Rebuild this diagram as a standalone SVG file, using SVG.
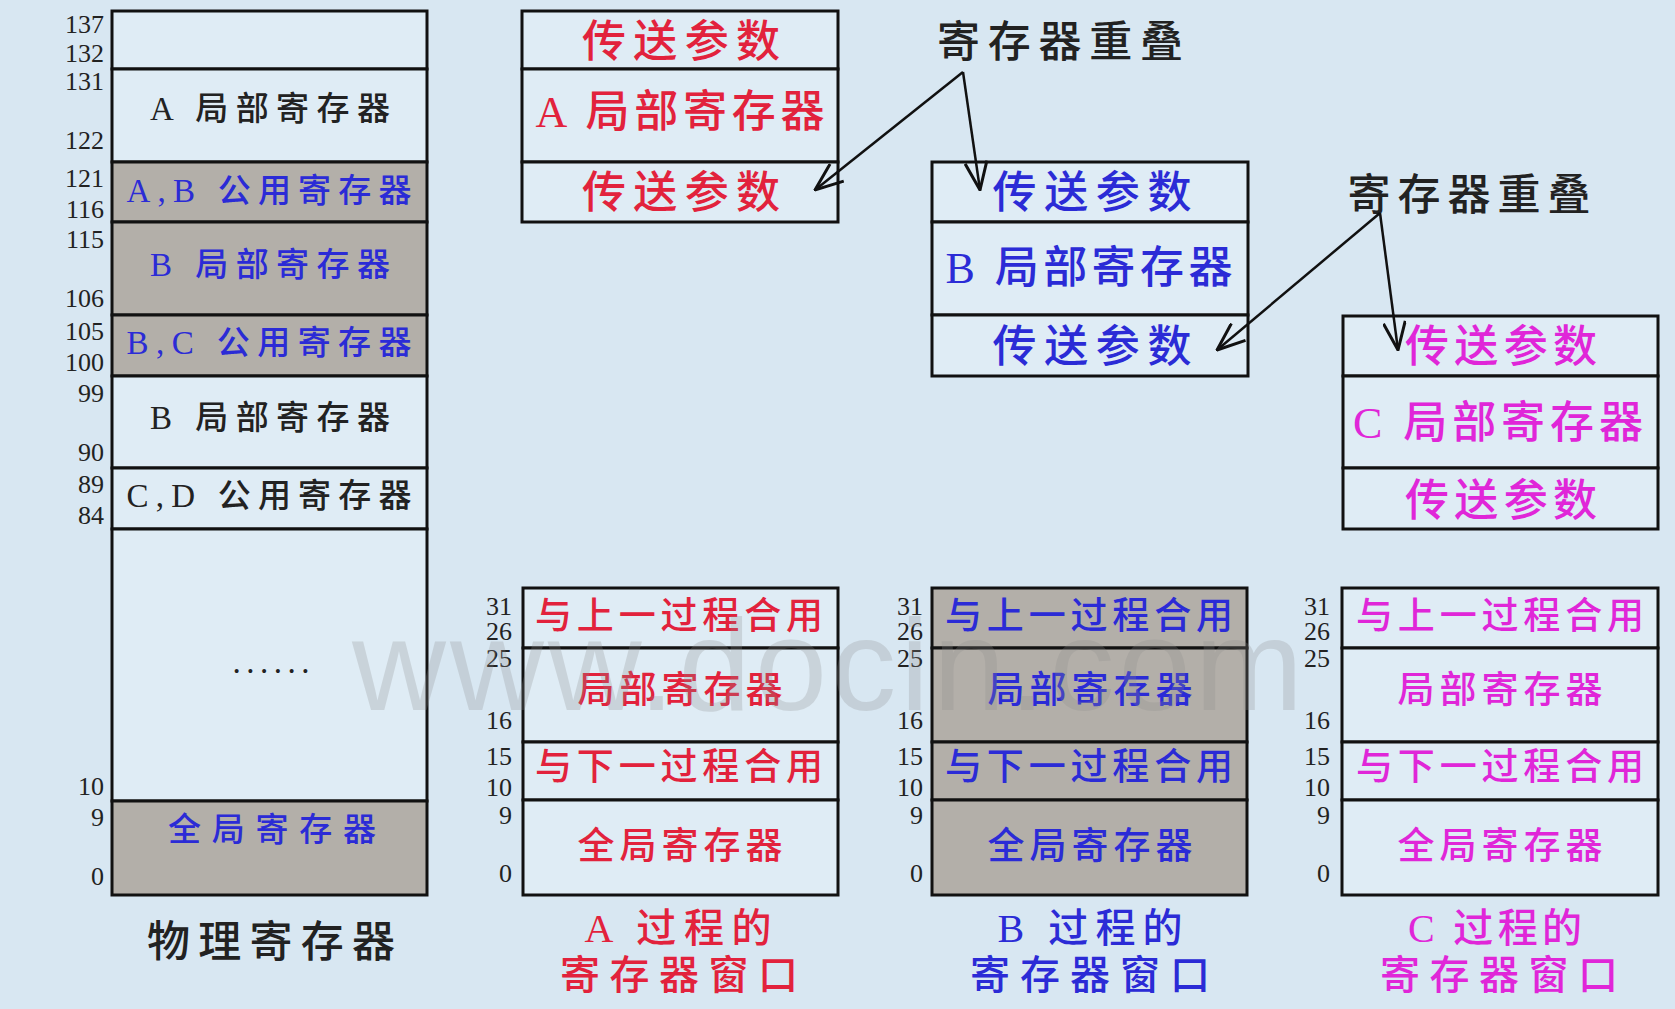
<svg xmlns="http://www.w3.org/2000/svg" width="1675" height="1009" viewBox="0 0 1675 1009">
<style>
.bx{fill:#dfecf5;stroke:#111;stroke-width:3}
.gr{fill:#b3afa9;stroke:#111;stroke-width:3}
.num{font-family:"Liberation Serif",serif;font-size:26px;fill:#222;text-anchor:end;dominant-baseline:central}
.t{font-family:"Liberation Serif","Noto Sans CJK SC",sans-serif;text-anchor:middle;dominant-baseline:central;font-weight:500}
.s33{font-size:33px}.s37{font-size:37px}.s40{font-size:40px}.s43{font-size:43px}.s44{font-size:44px}
.red{fill:#e2223c}.blue{fill:#2b2bd6}.mag{fill:#e026d8}.blk{fill:#222}
.arr{stroke:#111;stroke-width:2.5;fill:none;marker-end:url(#ah)}
</style>
<defs>
<marker id="ah" viewBox="0 0 30 24" refX="29" refY="12" markerWidth="30" markerHeight="24" orient="auto" markerUnits="userSpaceOnUse">
<path d="M1,1 L29,12 L1,23" fill="none" stroke="#111" stroke-width="3"/>
</marker>
</defs>
<rect x="0" y="0" width="1675" height="1009" fill="#d8e7f2"/>

<g id="physical">
<rect class="bx" x="112" y="11" width="315" height="58"/>
<rect class="bx" x="112" y="69" width="315" height="93"/>
<rect class="gr" x="112" y="162" width="315" height="60"/>
<rect class="gr" x="112" y="222" width="315" height="93"/>
<rect class="gr" x="112" y="315" width="315" height="61"/>
<rect class="bx" x="112" y="376" width="315" height="92"/>
<rect class="bx" x="112" y="468" width="315" height="61"/>
<rect class="bx" x="112" y="529" width="315" height="272"/>
<rect class="gr" x="112" y="801" width="315" height="94"/>
<text class="t s33 blk" x="270" y="109" textLength="240" lengthAdjust="spacing">A 局部寄存器</text>
<text class="t s33 blue" x="269" y="191" textLength="285" lengthAdjust="spacing">A,B 公用寄存器</text>
<text class="t s33 blue" x="270" y="265" textLength="240" lengthAdjust="spacing">B 局部寄存器</text>
<text class="t s33 blue" x="269" y="343" textLength="285" lengthAdjust="spacing">B,C 公用寄存器</text>
<text class="t s33 blk" x="270" y="418" textLength="240" lengthAdjust="spacing">B 局部寄存器</text>
<text class="t s33 blk" x="269" y="496" textLength="285" lengthAdjust="spacing">C,D 公用寄存器</text>
<text class="t s33 blk" x="271" y="662" font-weight="bold" textLength="77" lengthAdjust="spacing">......</text>
<text class="t s33 blue" x="272" y="830" textLength="208" lengthAdjust="spacing">全局寄存器</text>
<text class="num" x="104" y="24">137</text>
<text class="num" x="104" y="53">132</text>
<text class="num" x="104" y="81">131</text>
<text class="num" x="104" y="140">122</text>
<text class="num" x="104" y="178">121</text>
<text class="num" x="104" y="209">116</text>
<text class="num" x="104" y="239">115</text>
<text class="num" x="104" y="298">106</text>
<text class="num" x="104" y="331">105</text>
<text class="num" x="104" y="362">100</text>
<text class="num" x="104" y="393">99</text>
<text class="num" x="104" y="452">90</text>
<text class="num" x="104" y="484">89</text>
<text class="num" x="104" y="515">84</text>
<text class="num" x="104" y="786">10</text>
<text class="num" x="104" y="817">9</text>
<text class="num" x="104" y="876">0</text>
<text class="t s43 blk" x="271" y="942" textLength="248" lengthAdjust="spacing">物理寄存器</text>
</g>

<g id="winA-top">
<rect class="bx" x="522" y="11" width="316" height="58"/>
<rect class="bx" x="522" y="69" width="316" height="93"/>
<rect class="bx" x="522" y="162" width="316" height="60"/>
<text class="t s44 red" x="681" y="42" textLength="198" lengthAdjust="spacing">传送参数</text>
<text class="t s44 red" x="680" y="112" textLength="289" lengthAdjust="spacing">A 局部寄存器</text>
<text class="t s44 red" x="681" y="193" textLength="198" lengthAdjust="spacing">传送参数</text>
</g>

<g id="winB-top">
<rect class="bx" x="932" y="162" width="316" height="60"/>
<rect class="bx" x="932" y="222" width="316" height="93"/>
<rect class="bx" x="932" y="315" width="316" height="61"/>
<text class="t s44 blue" x="1092" y="193" textLength="199" lengthAdjust="spacing">传送参数</text>
<text class="t s44 blue" x="1089" y="268" textLength="287" lengthAdjust="spacing">B 局部寄存器</text>
<text class="t s44 blue" x="1092" y="347" textLength="199" lengthAdjust="spacing">传送参数</text>
</g>

<g id="winC-top">
<rect class="bx" x="1343" y="316" width="315" height="60"/>
<rect class="bx" x="1343" y="376" width="315" height="92"/>
<rect class="bx" x="1343" y="468" width="315" height="61"/>
<text class="t s44 mag" x="1501" y="347" textLength="192" lengthAdjust="spacing">传送参数</text>
<text class="t s44 mag" x="1498" y="423" textLength="290" lengthAdjust="spacing">C 局部寄存器</text>
<text class="t s44 mag" x="1501" y="501" textLength="192" lengthAdjust="spacing">传送参数</text>
</g>

<g id="overlap1">
<text class="t s43 blk" x="1060" y="42" textLength="246" lengthAdjust="spacing">寄存器重叠</text>
</g>
<g id="overlap2">
<text class="t s43 blk" x="1469" y="195" textLength="243" lengthAdjust="spacing">寄存器重叠</text>
</g>

<g id="connectors">
<line class="arr" x1="963" y1="72" x2="815" y2="190"/>
<line class="arr" x1="963" y1="72" x2="980" y2="190"/>
<line class="arr" x1="1380" y1="213" x2="1217" y2="350"/>
<line class="arr" x1="1380" y1="213" x2="1398" y2="350"/>
</g>

<g id="winA">
<rect class="bx" x="523" y="588" width="315" height="60"/>
<rect class="bx" x="523" y="648" width="315" height="94"/>
<rect class="bx" x="523" y="742" width="315" height="58"/>
<rect class="bx" x="523" y="800" width="315" height="95"/>
<text class="t s37 red" x="679" y="616" textLength="288" lengthAdjust="spacing">与上一过程合用</text>
<text class="t s37 red" x="680" y="690" textLength="205" lengthAdjust="spacing">局部寄存器</text>
<text class="t s37 red" x="679" y="767" textLength="288" lengthAdjust="spacing">与下一过程合用</text>
<text class="t s37 red" x="680" y="846" textLength="205" lengthAdjust="spacing">全局寄存器</text>
<text class="num" x="512" y="606">31</text>
<text class="num" x="512" y="631">26</text>
<text class="num" x="512" y="658">25</text>
<text class="num" x="512" y="720">16</text>
<text class="num" x="512" y="756">15</text>
<text class="num" x="512" y="787">10</text>
<text class="num" x="512" y="815">9</text>
<text class="num" x="512" y="873">0</text>
<text class="t s40 red" x="678" y="928" textLength="187" lengthAdjust="spacing">A 过程的</text>
<text class="t s40 red" x="679" y="975" textLength="238" lengthAdjust="spacing">寄存器窗口</text>
</g>

<g id="winB">
<rect class="gr" x="932" y="588" width="315" height="60"/>
<rect class="gr" x="932" y="648" width="315" height="94"/>
<rect class="gr" x="932" y="742" width="315" height="58"/>
<rect class="gr" x="932" y="800" width="315" height="95"/>
<text class="t s37 blue" x="1089" y="616" textLength="288" lengthAdjust="spacing">与上一过程合用</text>
<text class="t s37 blue" x="1090" y="690" textLength="205" lengthAdjust="spacing">局部寄存器</text>
<text class="t s37 blue" x="1089" y="767" textLength="288" lengthAdjust="spacing">与下一过程合用</text>
<text class="t s37 blue" x="1090" y="846" textLength="205" lengthAdjust="spacing">全局寄存器</text>
<text class="num" x="923" y="606">31</text>
<text class="num" x="923" y="631">26</text>
<text class="num" x="923" y="658">25</text>
<text class="num" x="923" y="720">16</text>
<text class="num" x="923" y="756">15</text>
<text class="num" x="923" y="787">10</text>
<text class="num" x="923" y="815">9</text>
<text class="num" x="923" y="873">0</text>
<text class="t s40 blue" x="1090" y="928" textLength="185" lengthAdjust="spacing">B 过程的</text>
<text class="t s40 blue" x="1090" y="975" textLength="240" lengthAdjust="spacing">寄存器窗口</text>
</g>

<g id="winC">
<rect class="bx" x="1342" y="588" width="316" height="60"/>
<rect class="bx" x="1342" y="648" width="316" height="94"/>
<rect class="bx" x="1342" y="742" width="316" height="58"/>
<rect class="bx" x="1342" y="800" width="316" height="95"/>
<text class="t s37 mag" x="1500" y="616" textLength="288" lengthAdjust="spacing">与上一过程合用</text>
<text class="t s37 mag" x="1500" y="690" textLength="205" lengthAdjust="spacing">局部寄存器</text>
<text class="t s37 mag" x="1500" y="767" textLength="288" lengthAdjust="spacing">与下一过程合用</text>
<text class="t s37 mag" x="1500" y="846" textLength="205" lengthAdjust="spacing">全局寄存器</text>
<text class="num" x="1330" y="606">31</text>
<text class="num" x="1330" y="631">26</text>
<text class="num" x="1330" y="658">25</text>
<text class="num" x="1330" y="720">16</text>
<text class="num" x="1330" y="756">15</text>
<text class="num" x="1330" y="787">10</text>
<text class="num" x="1330" y="815">9</text>
<text class="num" x="1330" y="873">0</text>
<text class="t s40 mag" x="1495" y="928" textLength="174" lengthAdjust="spacing">C 过程的</text>
<text class="t s40 mag" x="1499" y="975" textLength="238" lengthAdjust="spacing">寄存器窗口</text>
</g>

<text x="352" y="710" font-family="Liberation Sans, sans-serif" font-size="130" fill="#8c8c8c" opacity="0.25" textLength="951" lengthAdjust="spacing">www.docin.com</text>
</svg>
